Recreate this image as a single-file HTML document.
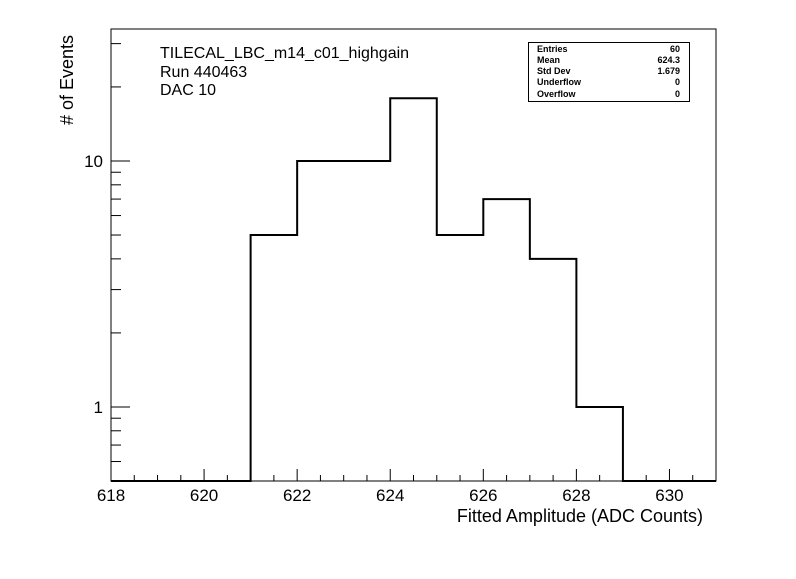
<!DOCTYPE html>
<html><head><meta charset="utf-8"><style>
body{margin:0;background:#fff}
svg text{font-family:"Liberation Sans",sans-serif}
</style></head><body>
<svg width="796" height="574" viewBox="0 0 796 574" xmlns="http://www.w3.org/2000/svg">
<rect width="796" height="574" fill="#fff"/>
<g id="axes"></g>
<g id="marks"></g>
<text x="160" y="58" font-size="16">TILECAL_LBC_m14_c01_highgain</text>
<text x="160" y="77" font-size="16">Run 440463</text>
<text x="160" y="95" font-size="16">DAC 10</text>
<g>
<rect x="528.5" y="42.5" width="161" height="59" fill="#fff" stroke="#000" stroke-width="1"/>
<g font-size="9" font-weight="bold">
<text x="537" y="52">Entries</text><text x="680" y="52" text-anchor="end">60</text>
<text x="537" y="63">Mean</text><text x="680" y="63" text-anchor="end">624.3</text>
<text x="537" y="74">Std Dev</text><text x="680" y="74" text-anchor="end">1.679</text>
<text x="537" y="85">Underflow</text><text x="680" y="85" text-anchor="end">0</text>
<text x="537" y="97">Overflow</text><text x="680" y="97" text-anchor="end">0</text>
</g></g>
<text x="703" y="522" font-size="18" text-anchor="end">Fitted Amplitude (ADC Counts)</text>
<text transform="translate(73,125) rotate(-90)" font-size="18"># of Events</text>
</svg>
<script>
const binEdges=[618,619,620,621,622,623,624,625,626,627,628,629,630,631];
const counts=[0,0,0,5,10,10,18,5,7,4,1,0,0];
const xTickLabels=[618,620,622,624,626,628,630];
const yTickLabels=[1,10];
const L=111,R=716,T=29,B=481,xMin=618,xMax=631,yMin=0.5,yMax=34.4;
const ns="http://www.w3.org/2000/svg";
const xs=v=>L+(v-xMin)/(xMax-xMin)*(R-L);
const ys=v=>B-(Math.log10(v)-Math.log10(yMin))/(Math.log10(yMax)-Math.log10(yMin))*(B-T);
const ax=document.getElementById('axes'),mk=document.getElementById('marks');
function mkEl(t,a,p){const e=document.createElementNS(ns,t);for(const k in a)e.setAttribute(k,a[k]);p.appendChild(e);return e;}
const fr=mkEl('rect',{x:L,y:T,width:R-L,height:B-T,fill:'none',stroke:'#000','stroke-width':1},ax);


for(let v=xMin;v<=xMax+1e-9;v+=0.5){
 const major=Math.abs(v%2)<1e-9;const x=xs(v);
 const t=mkEl('line',{x1:x,x2:x,y1:B,y2:B-(major?12:6),stroke:'#000'},ax);
 
 
}
xTickLabels.forEach(v=>{const t=mkEl('text',{x:xs(v),y:B+20,'font-size':17,'text-anchor':'middle'},ax);t.textContent=v;
 
 });
[0.6,0.7,0.8,0.9,1,2,3,4,5,6,7,8,9,10,20,30].forEach(v=>{
 const major=(v===1||v===10);const y=ys(v);
 const t=mkEl('line',{x1:L,x2:L+(major?19:10),y1:y,y2:y,stroke:'#000'},ax);
 
 
});
yTickLabels.forEach(v=>{const t=mkEl('text',{x:L-8,y:ys(v)+6,'font-size':17,'text-anchor':'end'},ax);t.textContent=v;
 
 });
let d='';
counts.forEach((c,i)=>{const y=c>0?ys(c):B;const x0=xs(binEdges[i]),x1=xs(binEdges[i+1]);
 d+=(i===0?`M${x0},${y}`:`L${x0},${y}`)+`L${x1},${y}`;});
const p=mkEl('path',{d:d,fill:'none',stroke:'#000','stroke-width':2},mk);


</script>
</body></html>
